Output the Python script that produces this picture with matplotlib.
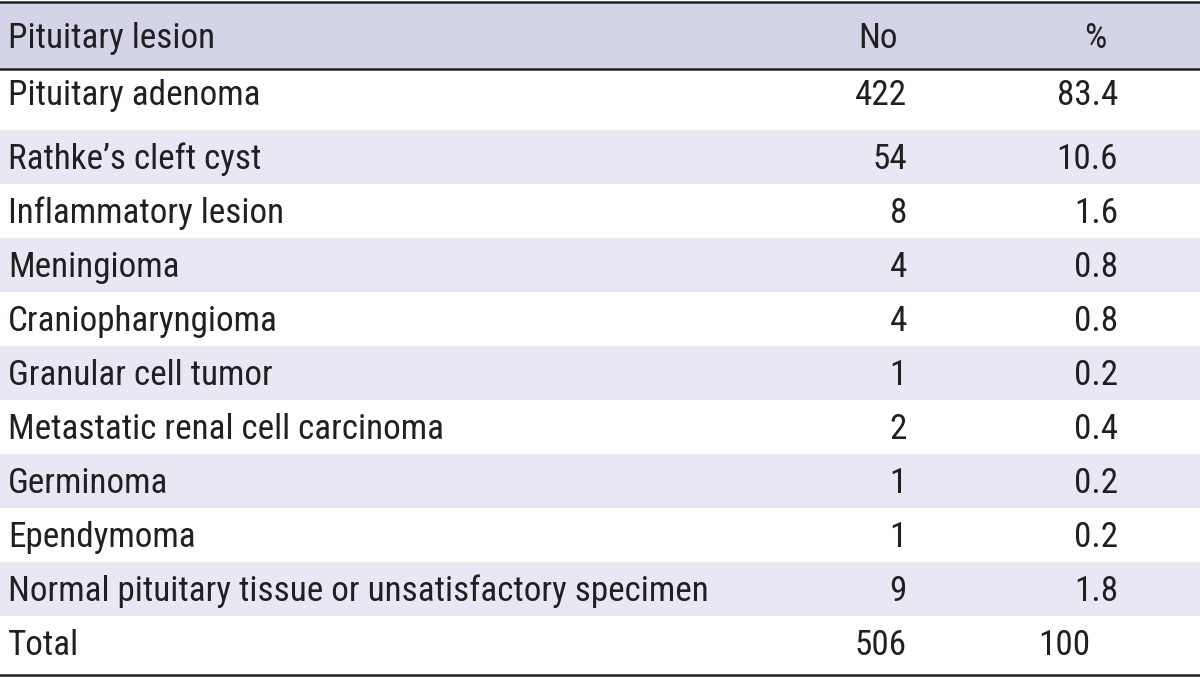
import matplotlib
matplotlib.use('Agg')
from matplotlib import pyplot as plt
from matplotlib import font_manager

# table contents
header = ['Pituitary lesion', 'No', '%']
lesions = ['Pituitary adenoma', 'Rathke\u2019s cleft cyst', 'Inflammatory lesion', 'Meningioma',
           'Craniopharyngioma', 'Granular cell tumor', 'Metastatic renal cell carcinoma',
           'Germinoma', 'Ependymoma', 'Normal pituitary tissue or unsatisfactory specimen', 'Total']
counts = ['422', '54', '8', '4', '4', '1', '2', '1', '1', '9', '506']
percents = ['83.4', '10.6', '1.6', '0.8', '0.8', '0.2', '0.4', '0.2', '0.2', '1.8', '100']

# look for a condensed face, the original uses a narrow grotesque
fonts = font_manager.fontManager.ttflist
font_kw = dict(family='Liberation Sans')
for f in fonts:
  if f.name in ('Liberation Sans Narrow', 'Roboto Condensed', 'Open Sans Condensed'):
    font_kw = dict(family=f.name)
    break
else:
  for f in fonts:
    if f.name == 'DejaVu Sans' and str(f.stretch) in ('condensed', '300', 'semi-condensed'):
      font_kw = dict(family='DejaVu Sans', stretch=f.stretch)
      break

W, H = 1200, 678
fig = plt.figure(figsize=(12, 6.78), dpi=100)
ax = fig.add_axes([0, 0, 1, 1])
ax.set_xlim(0, W)
ax.set_ylim(H, 0)
ax.axis('off')

head_color = '#d4d4e8'
band_color = '#e8e8f4'
line_color = '#231f20'

# row layout (pixels)
top = 2
head_h = 67
first_h = 61
row_h = 54
last_h = 60
heights = [first_h] + [row_h] * (len(lesions) - 2) + [last_h]

ax.axhspan(top, top + head_h, color=head_color, lw=0)
rows = []
y = top + head_h
for i, h in enumerate(heights):
  if i % 2 == 1:
    ax.axhspan(y, y + h, color=band_color, lw=0)
  rows.append((y, h))
  y += h
bottom = y

ax.axhline(top, color=line_color, lw=1.8)
ax.axhline(top + head_h, color=line_color, lw=1.8)
ax.axhline(bottom - 1, color=line_color, lw=1.8)

# size text so the longest label spans about 702 px like the original
fs = 23
probe = ax.text(8, 0, lesions[9], fontsize=fs, **font_kw)
fig.canvas.draw()
wpx = probe.get_window_extent().width
probe.remove()
fs = fs * 702 / wpx

kw = dict(fontsize=fs, color='#231f20', va='baseline', **font_kw)
hb = top + 46
ax.text(8, hb, header[0], ha='left', **kw)
ax.text(878, hb, header[1], ha='center', **kw)
ax.text(1095, hb, header[2], ha='center', **kw)

for i, (y0, h) in enumerate(rows):
  yb = y0 + 36 if i == 0 else y0 + min(h, row_h) / 2 + 12
  ax.text(8, yb, lesions[i], ha='left', **kw)
  ax.text(907, yb, counts[i], ha='right', **kw)
  # total percentage sits a little left in the original
  px = 1090 if i == len(lesions) - 1 else 1118
  ax.text(px, yb, percents[i], ha='right', **kw)

fig.savefig('out.png', dpi=100)
